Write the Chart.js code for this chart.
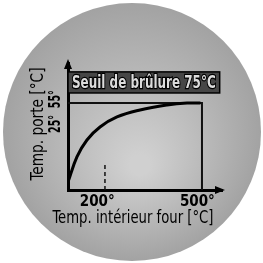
<!DOCTYPE html>
<html>
<head>
<meta charset="utf-8">
<script src="https://cdn.jsdelivr.net/npm/chart.js@4.4.1/dist/chart.umd.min.js"></script>
<style>
  html, body { margin: 0; padding: 0; background: #fff; }
  #wrap { width: 263px; height: 263px; }
</style>
</head>
<body>
<div id="wrap"><canvas id="c" width="263" height="263"></canvas></div>
<script>
// ── data (schematic units 0..100 on both axes) ──
const curveX = [0, 5.8, 12.3, 20.8, 31.8, 46.8, 64.3, 77.3, 86];
const curveY = [6.3, 26, 39.4, 49.6, 57.5, 63, 66.9, 68.5, 68.5];
const limitX = [0, 87, 87];
const limitY = [68.5, 68.5, 0];
const markX  = [24, 24];
const markY  = [0, 20];
const xTickPos    = [19, 84];
const xTickLabels = ['200°', '500°'];
const yTickPos    = [52, 71.5];
const yTickLabels = ['25°', '55°'];
const xTitle = 'Temp. intérieur four [°C]';
const yTitle = 'Temp. porte [°C]';
const bandLabel = 'Seuil de brûlure 75°C';
const bandY = [76.4, 93];
const bandXEnd = 98.5;

const FONT = "'DejaVu Sans Condensed', 'Liberation Sans', sans-serif";

const pts = (xs, ys) => xs.map((x, i) => ({ x, y: ys[i] }));

// text squeezed to a given width (the original face is narrow)
function narrowText(ctx, text, cx, cy, width, angle) {
  const w = ctx.measureText(text).width;
  ctx.save();
  ctx.translate(cx, cy);
  ctx.rotate(angle || 0);
  ctx.scale(Math.min(1, width / w), 1);
  ctx.fillText(text, 0, 0);
  ctx.restore();
}

// background disc, band, arrows, axis texts
const decor = {
  id: 'decor',
  beforeDraw(chart) {
    const ctx = chart.ctx;
    ctx.save();
    ctx.fillStyle = '#fff';
    ctx.fillRect(0, 0, chart.width, chart.height);
    const g = ctx.createRadialGradient(140, 165, 10, 132, 132, 130);
    g.addColorStop(0, '#d0d0d0');
    g.addColorStop(1, '#a2a2a2');
    ctx.fillStyle = g;
    ctx.beginPath();
    ctx.arc(132, 132, 129, 0, Math.PI * 2);
    ctx.fill();
    ctx.restore();
  },
  afterDraw(chart) {
    const { ctx, scales: { x, y }, chartArea: a } = chart;
    ctx.save();
    // band
    const bx0 = x.getPixelForValue(0), bx1 = x.getPixelForValue(bandXEnd);
    const by0 = y.getPixelForValue(bandY[1]), by1 = y.getPixelForValue(bandY[0]);
    ctx.fillStyle = '#464646';
    ctx.fillRect(bx0, by0, bx1 - bx0, by1 - by0);
    ctx.strokeStyle = '#000';
    ctx.lineWidth = 1.5;
    ctx.strokeRect(bx0, by0, bx1 - bx0, by1 - by0);
    ctx.font = 'bold 18px ' + FONT;
    ctx.textAlign = 'center';
    ctx.textBaseline = 'middle';
    ctx.lineWidth = 2.5;
    ctx.strokeStyle = '#000';
    const mx = (bx0 + bx1) / 2, my = (by0 + by1) / 2 + 1, mw = bx1 - bx0 - 8;
    ctx.strokeText(bandLabel, mx, my, mw);
    ctx.fillStyle = '#dcdcdc';
    ctx.fillText(bandLabel, mx, my, mw);
    ctx.fillStyle = '#000';
    // y tick labels, rotated
    ctx.font = 'bold 16px ' + FONT;
    yTickPos.forEach((v, i) => {
      narrowText(ctx, yTickLabels[i], a.left - 12, y.getPixelForValue(v), 18, -Math.PI / 2);
    });
    // axis titles
    ctx.font = '18px ' + FONT;
    narrowText(ctx, xTitle, 133, 218, 161);
    narrowText(ctx, yTitle, 38, 124, 113, -Math.PI / 2);
    // arrow heads
    ctx.beginPath();
    ctx.moveTo(a.left, a.top - 4);
    ctx.lineTo(a.left - 4, a.top + 6);
    ctx.lineTo(a.left + 4, a.top + 6);
    ctx.fill();
    ctx.beginPath();
    ctx.moveTo(a.right + 3, a.bottom);
    ctx.lineTo(a.right - 7, a.bottom - 4);
    ctx.lineTo(a.right - 7, a.bottom + 4);
    ctx.fill();
    ctx.restore();
  }
};

new Chart(document.getElementById('c'), {
  type: 'scatter',
  data: {
    datasets: [
      { data: pts(curveX, curveY), showLine: true, tension: 0.4, borderColor: '#000', borderWidth: 3, pointRadius: 0 },
      { data: pts(limitX, limitY), showLine: true, borderColor: '#111', borderWidth: 2, pointRadius: 0 },
      { data: pts(markX, markY), showLine: true, borderColor: '#111', borderWidth: 1.5, borderDash: [4, 3], pointRadius: 0 }
    ]
  },
  options: {
    responsive: false,
    animation: false,
    layout: { padding: { top: 63, right: 41, bottom: 35, left: 0 } },
    plugins: { legend: { display: false }, tooltip: { enabled: false } },
    scales: {
      x: {
        type: 'linear', min: 0, max: 100,
        grid: { display: false, drawTicks: false },
        border: { display: true, color: '#000', width: 3 },
        afterBuildTicks: s => { s.ticks = xTickPos.map(v => ({ value: v })); },
        afterFit: s => { s.height = 38; },
        ticks: {
          color: '#000', padding: 3, autoSkip: false, maxRotation: 0,
          font: { family: FONT, size: 15, weight: 'bold' },
          callback: (v, i) => xTickLabels[i]
        }
      },
      y: {
        type: 'linear', min: 0, max: 100,
        grid: { display: false, drawTicks: false },
        border: { display: true, color: '#000', width: 3 },
        afterBuildTicks: s => { s.ticks = yTickPos.map(v => ({ value: v })); },
        afterFit: s => { s.width = 68; },
        ticks: { display: false }
      }
    }
  },
  plugins: [decor]
});
</script>
</body>
</html>
